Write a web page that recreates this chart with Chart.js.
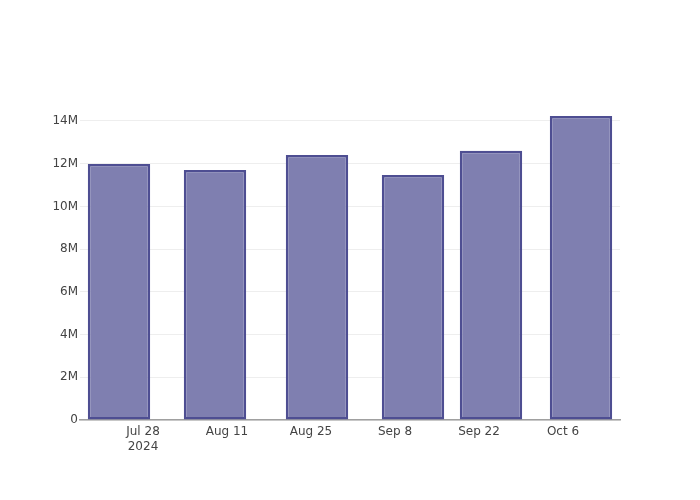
<!DOCTYPE html>
<html>
<head>
<meta charset="utf-8">
<script src="https://cdn.jsdelivr.net/npm/chart.js@4"></script>
<style>
  body { margin: 0; background: #fff; }
</style>
</head>
<body>
<canvas id="myChart" width="700" height="500"></canvas>
<script>
// data
const dates = ['2024-07-24', '2024-08-09', '2024-08-26', '2024-09-11', '2024-09-24', '2024-10-09'];
const values = [11.98e6, 11.70e6, 12.41e6, 11.47e6, 12.60e6, 14.23e6];
const tickDates = ['2024-07-28', '2024-08-11', '2024-08-25', '2024-09-08', '2024-09-22', '2024-10-06'];
const yTicks = [0, 2e6, 4e6, 6e6, 8e6, 10e6, 12e6, 14e6];

// days counted from the first tick
const base = Date.UTC(2024, 6, 28);
const toDay = s => (Date.parse(s + 'T00:00:00Z') - base) / 86400000;
const months = ['Jan','Feb','Mar','Apr','May','Jun','Jul','Aug','Sep','Oct','Nov','Dec'];

const ctx = document.getElementById('myChart');
new Chart(ctx, {
    type: 'bar',
    data: {
        datasets: [{
            data: dates.map((d, i) => ({ x: toDay(d), y: values[i] })),
            backgroundColor: 'rgb(127, 127, 176)',
            borderColor: 'rgb(78, 78, 146)',
            borderWidth: 2.5,
            borderSkipped: false,
            categoryPercentage: 0.8,
            barPercentage: 1
        }]
    },
    options: {
        responsive: false,
        animation: false,
        layout: { padding: { top: 100, right: 80, left: 0, bottom: 0 } },
        plugins: { legend: { display: false }, tooltip: { enabled: false } },
        scales: {
            x: {
                type: 'linear',
                offset: false,
                min: -10.5,
                max: 79.5,
                grid: { display: false, drawTicks: false, offset: false },
                border: { display: true, color: '#a0a0a0', width: 1.5 },
                afterBuildTicks: ax => { ax.ticks = tickDates.map(d => ({ value: toDay(d) })); },
                afterFit: ax => { ax.height = 80; },
                ticks: {
                    maxRotation: 0,
                    autoSkip: false,
                    padding: 4,
                    color: '#444',
                    font: { family: 'DejaVu Sans', size: 12, lineHeight: 1.25 },
                    callback: (v, i) => {
                        const dt = new Date(base + v * 86400000);
                        const s = months[dt.getUTCMonth()] + ' ' + dt.getUTCDate();
                        return i === 0 ? [s, String(dt.getUTCFullYear())] : s;
                    }
                }
            },
            y: {
                min: 0,
                max: 14.98e6,
                grid: { color: '#eeeeee', lineWidth: 1, drawTicks: false },
                border: { display: false },
                afterBuildTicks: ax => { ax.ticks = yTicks.map(v => ({ value: v })); },
                afterFit: ax => { ax.width = 80; },
                ticks: {
                    padding: 2,
                    color: '#444',
                    font: { family: 'DejaVu Sans', size: 12 },
                    callback: v => v === 0 ? '0' : (v / 1e6) + 'M'
                }
            }
        }
    }
});
</script>
</body>
</html>
